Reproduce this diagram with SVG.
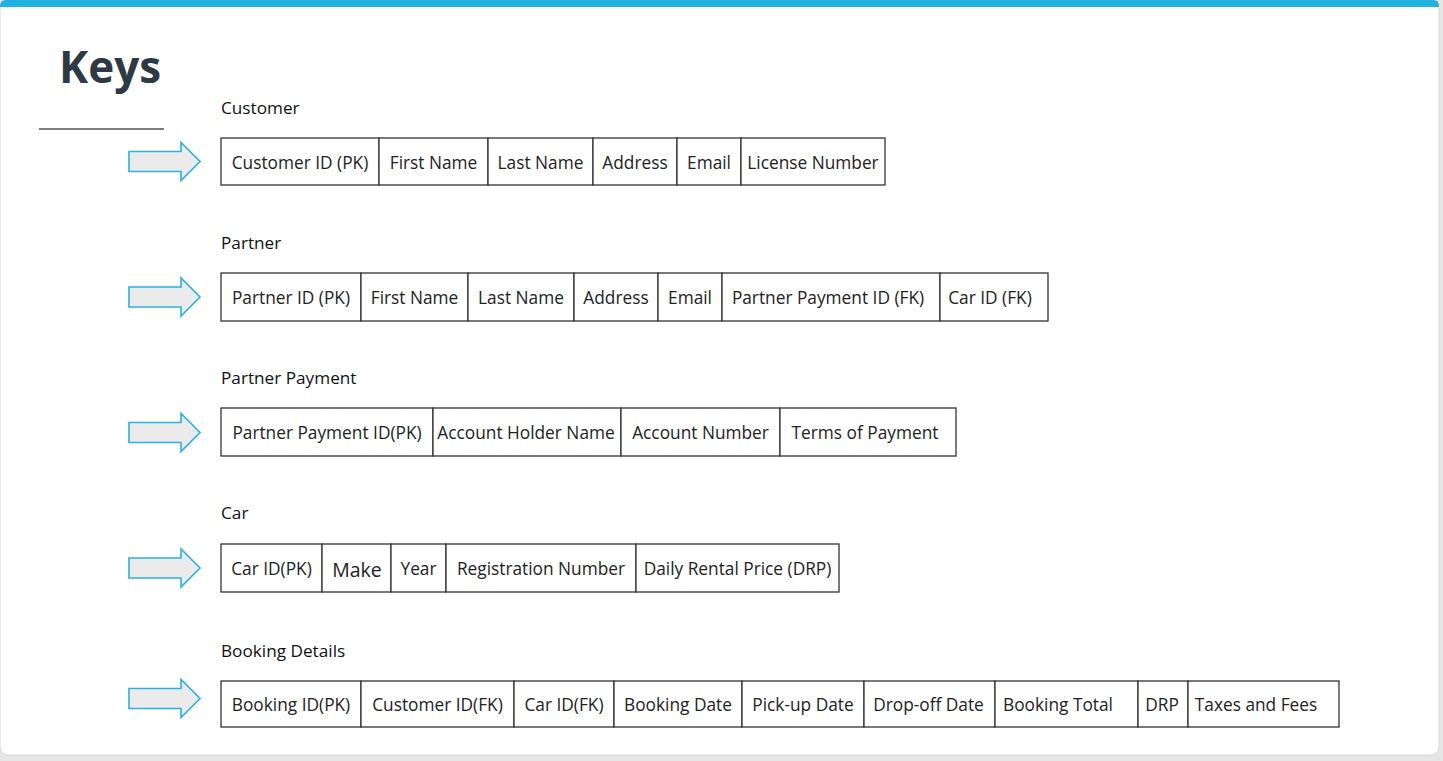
<svg xmlns="http://www.w3.org/2000/svg" width="1443" height="761" viewBox="0 0 1443 761">
<defs>
<style>
.cell{fill:#ffffff;stroke:#333333;stroke-width:1.3}
.t{font-family:"Open Sans","Noto Sans","Liberation Sans",sans-serif;font-size:17.3px;fill:#222222;text-anchor:middle}
.h{font-family:"Open Sans","Noto Sans","Liberation Sans",sans-serif;font-size:17.2px;fill:#111111}
.arrow{fill:#ebebeb;stroke:#29b2e2;stroke-width:1.6;stroke-linejoin:miter}
</style>
<path id="arr" class="arrow" d="M129,-10 L181,-10 L181,-19 L200,0 L181,19 L181,10 L129,10 Z"/>
</defs>
<rect x="0" y="0" width="1443" height="761" fill="#e6e6e6"/>
<rect x="0" y="0" width="1439" height="755" rx="8" ry="8" fill="#ffffff" stroke="#d8d8d8" stroke-width="1"/>
<path d="M0,7 L0,6 Q0,0 6,0 L1433,0 Q1439,0 1439,6 L1439,7 Z" fill="#22b1e0"/>
<g id="title">
<text x="59" y="83" font-family="'Open Sans','Noto Sans','Liberation Sans',sans-serif" font-size="44" font-weight="bold" fill="#2d3a46">Keys</text>
<line x1="39" y1="129" x2="164" y2="129" stroke="#555555" stroke-width="1.4"/>
</g>
<g id="connectors">
<use href="#arr" transform="translate(0,161.5)"/>
<use href="#arr" transform="translate(0,297)"/>
<use href="#arr" transform="translate(0,432.5)"/>
<use href="#arr" transform="translate(0,568)"/>
<use href="#arr" transform="translate(0,698.5)"/>
</g>
<g id="customer">
<text class="h" x="221" y="114">Customer</text>
<rect class="cell" x="221" y="138" width="158" height="47"/>
<rect class="cell" x="379" y="138" width="109" height="47"/>
<rect class="cell" x="488" y="138" width="105" height="47"/>
<rect class="cell" x="593" y="138" width="84" height="47"/>
<rect class="cell" x="677" y="138" width="64" height="47"/>
<rect class="cell" x="741" y="138" width="144" height="47"/>
<text class="t" x="300" y="169">Customer ID (PK)</text>
<text class="t" x="433.5" y="169">First Name</text>
<text class="t" x="540.5" y="169">Last Name</text>
<text class="t" x="635" y="169">Address</text>
<text class="t" x="709" y="169">Email</text>
<text class="t" x="813" y="169">License Number</text>
</g>
<g id="partner">
<text class="h" x="221" y="249">Partner</text>
<rect class="cell" x="221" y="273" width="140" height="48"/>
<rect class="cell" x="361" y="273" width="107" height="48"/>
<rect class="cell" x="468" y="273" width="106" height="48"/>
<rect class="cell" x="574" y="273" width="84" height="48"/>
<rect class="cell" x="658" y="273" width="64" height="48"/>
<rect class="cell" x="722" y="273" width="218" height="48"/>
<rect class="cell" x="940" y="273" width="108" height="48"/>
<text class="t" x="291" y="304">Partner ID (PK)</text>
<text class="t" x="414.5" y="304">First Name</text>
<text class="t" x="521" y="304">Last Name</text>
<text class="t" x="616" y="304">Address</text>
<text class="t" x="690" y="304">Email</text>
<text class="t" x="828" y="304">Partner Payment ID (FK)</text>
<text class="t" x="990" y="304">Car ID (FK)</text>
</g>
<g id="partner-payment">
<text class="h" x="221" y="384">Partner Payment</text>
<rect class="cell" x="221" y="408" width="212" height="48"/>
<rect class="cell" x="433" y="408" width="188" height="48"/>
<rect class="cell" x="621" y="408" width="159" height="48"/>
<rect class="cell" x="780" y="408" width="176" height="48"/>
<text class="t" x="327" y="439">Partner Payment ID(PK)</text>
<text class="t" x="526" y="439">Account Holder Name</text>
<text class="t" x="700.5" y="439">Account Number</text>
<text class="t" x="865" y="439">Terms of Payment</text>
</g>
<g id="car">
<text class="h" x="221" y="519">Car</text>
<rect class="cell" x="221" y="544" width="101" height="48"/>
<rect class="cell" x="322" y="544" width="69" height="48"/>
<rect class="cell" x="391" y="544" width="55" height="48"/>
<rect class="cell" x="446" y="544" width="190" height="48"/>
<rect class="cell" x="636" y="544" width="203" height="48"/>
<text class="t" x="271.5" y="575">Car ID(PK)</text>
<text class="t" x="357" y="577" style="font-size:19.5px">Make</text>
<text class="t" x="418.5" y="575">Year</text>
<text class="t" x="541" y="575">Registration Number</text>
<text class="t" x="737.5" y="575">Daily Rental Price (DRP)</text>
</g>
<g id="booking-details">
<text class="h" x="221" y="657">Booking Details</text>
<rect class="cell" x="221" y="681" width="140" height="46"/>
<rect class="cell" x="361" y="681" width="153" height="46"/>
<rect class="cell" x="514" y="681" width="100" height="46"/>
<rect class="cell" x="614" y="681" width="128" height="46"/>
<rect class="cell" x="742" y="681" width="122" height="46"/>
<rect class="cell" x="864" y="681" width="131" height="46"/>
<rect class="cell" x="995" y="681" width="143" height="46"/>
<rect class="cell" x="1138" y="681" width="50" height="46"/>
<rect class="cell" x="1188" y="681" width="151" height="46"/>
<text class="t" x="291" y="711">Booking ID(PK)</text>
<text class="t" x="437.5" y="711">Customer ID(FK)</text>
<text class="t" x="564" y="711">Car ID(FK)</text>
<text class="t" x="678" y="711">Booking Date</text>
<text class="t" x="803" y="711">Pick-up Date</text>
<text class="t" x="928.5" y="711">Drop-off Date</text>
<text class="t" x="1058" y="711">Booking Total</text>
<text class="t" x="1162" y="711">DRP</text>
<text class="t" x="1256" y="711">Taxes and Fees</text>
</g>
</svg>
